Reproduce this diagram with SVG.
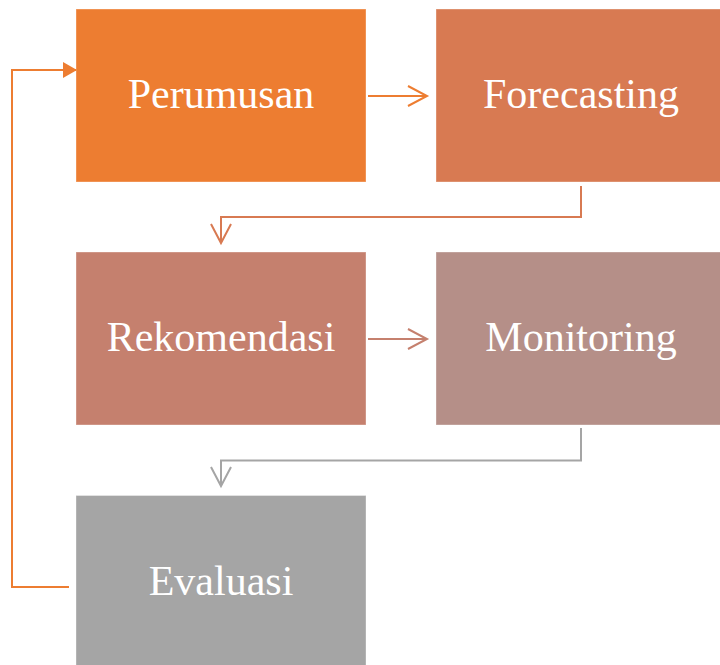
<svg xmlns="http://www.w3.org/2000/svg" width="720" height="665" viewBox="0 0 720 665">
<style>
.box{stroke:#ffffff;stroke-opacity:0.35;stroke-width:1}
.lbl{font-family:"Liberation Serif","Times New Roman",serif;font-size:42px;fill:#ffffff;text-anchor:middle}
.con{fill:none;stroke-width:2;stroke-linejoin:miter}
</style>
<defs>
<marker id="tri" viewBox="0 0 14 16" refX="13" refY="8" markerWidth="14" markerHeight="16" markerUnits="userSpaceOnUse" orient="auto">
<path d="M0,0 L14,8 L0,16 Z" fill="#ED7D31"/>
</marker>
</defs>
<rect width="720" height="665" fill="#ffffff"/>
<g id="perumusan">
<rect class="box" x="76" y="9" width="290" height="173" fill="#ED7D31"/>
<text class="lbl" x="221" y="108">Perumusan</text>
</g>
<g id="forecasting">
<rect class="box" x="436" y="9" width="290" height="173" fill="#D87A52"/>
<text class="lbl" x="581" y="108">Forecasting</text>
</g>
<g id="rekomendasi">
<rect class="box" x="76" y="252" width="290" height="173" fill="#C5806E"/>
<text class="lbl" x="221" y="351">Rekomendasi</text>
</g>
<g id="monitoring">
<rect class="box" x="436" y="252" width="290" height="173" fill="#B58F88"/>
<text class="lbl" x="581" y="351">Monitoring</text>
</g>
<g id="evaluasi">
<rect class="box" x="76" y="495.5" width="290" height="173" fill="#A5A5A5"/>
<text class="lbl" x="221" y="595">Evaluasi</text>
</g>
<g id="connectors">
<g stroke="#ED7D31" class="con">
<path class="con" stroke="#ED7D31" d="M368,96 H426"/>
<path class="con" stroke="#ED7D31" d="M408,86 L427,96 L408,106"/>
</g>
<path class="con" stroke="#D87A52" d="M581,186 V217 H221 V242"/>
<path class="con" stroke="#D87A52" d="M211,224 L221,243 L231,224"/>
<path class="con" stroke="#C5806E" d="M368,339 H426"/>
<path class="con" stroke="#C5806E" d="M408,329 L427,339 L408,349"/>
<path class="con" stroke="#A5A5A5" d="M581,428 V460.5 H221 V485"/>
<path class="con" stroke="#A5A5A5" d="M211,467 L221,486 L231,467"/>
<path class="con" stroke="#ED7D31" d="M69,587 H12 V70 H76" marker-end="url(#tri)"/>
</g>
</svg>
